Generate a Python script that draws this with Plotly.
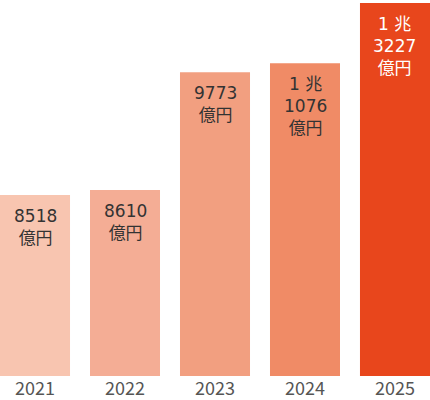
import plotly.graph_objects as go

# data
years = ["2021", "2022", "2023", "2024", "2025"]
labels = ["8518<br>億円", "8610<br>億円", "9773<br>億円", "1 兆<br>1076<br>億円", "1 兆<br>3227<br>億円"]
# drawn bar heights (the chart is not to scale), in plot pixels
bar_height = [183, 188, 307, 316, 377]
colors = ["#F8C5B0", "#F4AD95", "#F29F80", "#F08B66", "#E8461C"]
text_colors = ["#333333", "#333333", "#333333", "#333333", "#FFFFFF"]

FONT = "Noto Sans CJK JP"
LABEL_FONT = "DejaVu Sans, Noto Sans CJK JP"  # wider digits, CJK falls back

fig = go.Figure(go.Bar(x=years, y=bar_height, marker_color=colors,
                       marker_line_width=0, hoverinfo="skip"))

# value labels near the top of each bar
for i, yr in enumerate(years):
    fig.add_annotation(x=i, y=bar_height[i], xref="x", yref="y",
                       text=labels[i], showarrow=False,
                       yanchor="top", yshift=-9,
                       font=dict(family=LABEL_FONT, size=17, color=text_colors[i]))

fig.update_layout(width=430, height=400,
                  margin=dict(l=0, r=0, t=0, b=20),
                  paper_bgcolor="white", plot_bgcolor="white",
                  bargap=0.222, showlegend=False)
fig.update_xaxes(type="category", range=[-0.389, 4.389], showgrid=False,
                 showline=False, ticks="",
                 tickfont=dict(family=FONT, size=18, color="#555555"))
fig.update_yaxes(range=[0, 380], visible=False)

# the page's default body margin would shift the figure
fig.write_html("out.html", config={"displayModeBar": False},
               post_script="document.body.style.margin='0';")
